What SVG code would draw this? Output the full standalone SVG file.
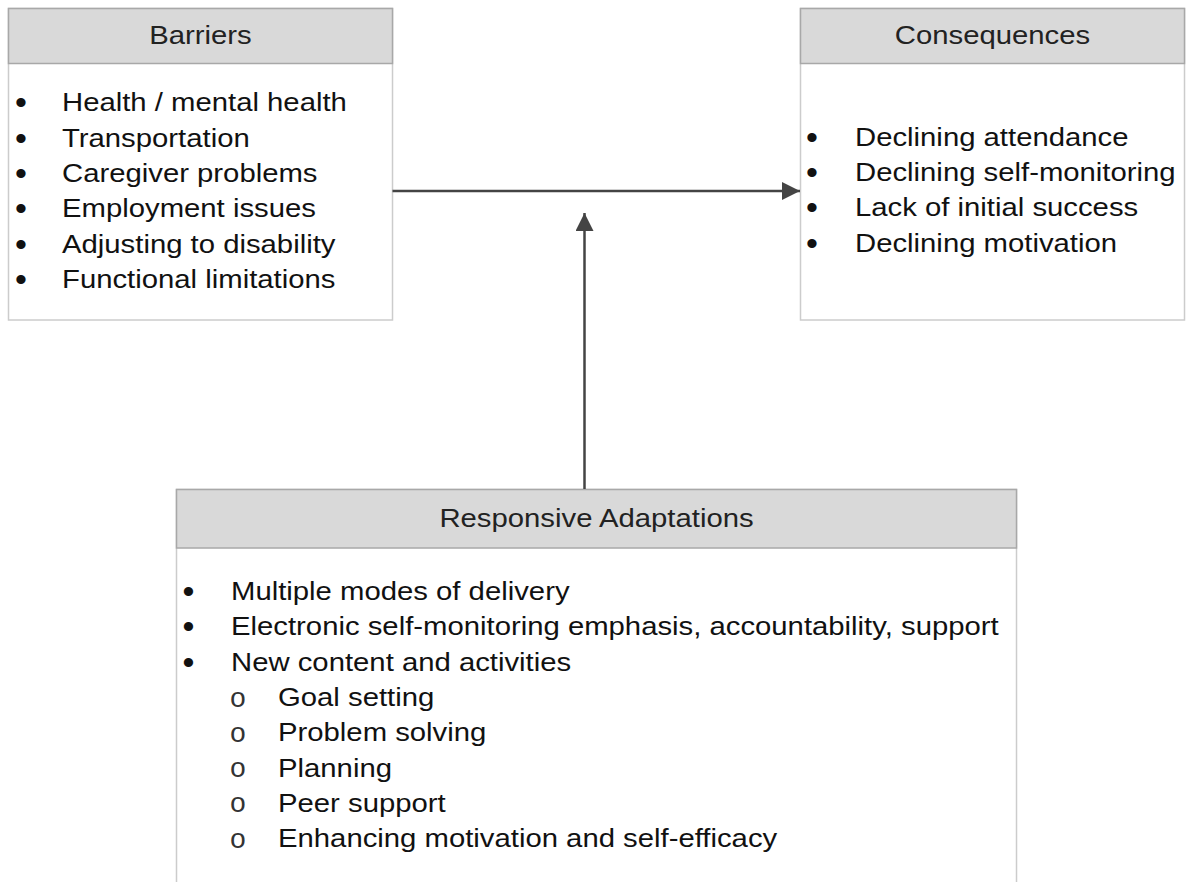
<svg xmlns="http://www.w3.org/2000/svg" width="1189" height="882" viewBox="0 0 1189 882">
  <style>
    .body { fill: #ffffff; stroke: #cccccc; stroke-width: 1.5; }
    .head { fill: #d9d9d9; stroke: #a8a8a8; stroke-width: 1.5; }
    text { font-family: "Liberation Sans", Arial, sans-serif; font-size: 25px; fill: #111111; }
    .title { fill: #222222; text-anchor: middle; }
    .bul { text-anchor: middle; font-size: 34px; }
    .sub { font-family: "Liberation Mono", "Courier New", monospace; font-size: 28px; text-anchor: middle; fill: #333333; }
    .conn { stroke: #444444; stroke-width: 2.5; fill: none; }
  </style>
  <defs>
    <marker id="arrow" markerUnits="userSpaceOnUse" markerWidth="20" markerHeight="18" refX="18" refY="9" orient="auto">
      <path d="M0,0 L18,9 L0,18 Z" fill="#444444"/>
    </marker>
  </defs>
  <rect width="1189" height="882" fill="#ffffff"/>

  <g id="barriers">
    <rect class="body" x="8.5" y="8.5" width="384" height="311.5"/>
    <rect class="head" x="8.5" y="8.5" width="384" height="55"/>
    <text class="title" transform="translate(200.5,44) scale(1.172,1)">Barriers</text>
    <text class="bul" x="21" y="114">•</text>
    <text transform="translate(62,111) scale(1.172,1)">Health / mental health</text>
    <text class="bul" x="21" y="149.5">•</text>
    <text transform="translate(62,146.5) scale(1.172,1)">Transportation</text>
    <text class="bul" x="21" y="185">•</text>
    <text transform="translate(62,182) scale(1.172,1)">Caregiver problems</text>
    <text class="bul" x="21" y="220.2">•</text>
    <text transform="translate(62,217.2) scale(1.172,1)">Employment issues</text>
    <text class="bul" x="21" y="255.5">•</text>
    <text transform="translate(62,252.5) scale(1.172,1)">Adjusting to disability</text>
    <text class="bul" x="21" y="290.5">•</text>
    <text transform="translate(62,287.5) scale(1.172,1)">Functional limitations</text>
  </g>

  <g id="consequences">
    <rect class="body" x="800.5" y="8.5" width="384" height="311.5"/>
    <rect class="head" x="800.5" y="8.5" width="384" height="55"/>
    <text class="title" transform="translate(992.5,44) scale(1.172,1)">Consequences</text>
    <text class="bul" x="812" y="148.7">•</text>
    <text transform="translate(855,145.7) scale(1.172,1)">Declining attendance</text>
    <text class="bul" x="812" y="184">•</text>
    <text transform="translate(855,181) scale(1.172,1)">Declining self-monitoring</text>
    <text class="bul" x="812" y="219.3">•</text>
    <text transform="translate(855,216.3) scale(1.172,1)">Lack of initial success</text>
    <text class="bul" x="812" y="254.6">•</text>
    <text transform="translate(855,251.6) scale(1.172,1)">Declining motivation</text>
  </g>

  <g id="responsive-adaptations">
    <rect class="body" x="176.5" y="489.5" width="840" height="420"/>
    <rect class="head" x="176.5" y="489.5" width="840" height="58.5"/>
    <text class="title" transform="translate(596.5,527) scale(1.172,1)">Responsive Adaptations</text>
    <text class="bul" x="188.5" y="603">•</text>
    <text transform="translate(231,600) scale(1.172,1)">Multiple modes of delivery</text>
    <text class="bul" x="188.5" y="638.3">•</text>
    <text transform="translate(231,635.3) scale(1.172,1)">Electronic self-monitoring emphasis, accountability, support</text>
    <text class="bul" x="188.5" y="673.6">•</text>
    <text transform="translate(231,670.6) scale(1.172,1)">New content and activities</text>
    <text class="sub" x="238" y="706.5">o</text>
    <text transform="translate(278,705.9) scale(1.172,1)">Goal setting</text>
    <text class="sub" x="238" y="741.8">o</text>
    <text transform="translate(278,741.2) scale(1.172,1)">Problem solving</text>
    <text class="sub" x="238" y="777.1">o</text>
    <text transform="translate(278,776.5) scale(1.172,1)">Planning</text>
    <text class="sub" x="238" y="812.4">o</text>
    <text transform="translate(278,811.8) scale(1.172,1)">Peer support</text>
    <text class="sub" x="238" y="847.7">o</text>
    <text transform="translate(278,847.1) scale(1.172,1)">Enhancing motivation and self-efficacy</text>
  </g>

  <g id="connectors">
    <line class="conn" x1="392.5" y1="191" x2="800" y2="191" marker-end="url(#arrow)"/>
    <line class="conn" x1="584.5" y1="489" x2="584.5" y2="213" marker-end="url(#arrow)"/>
  </g>
</svg>
